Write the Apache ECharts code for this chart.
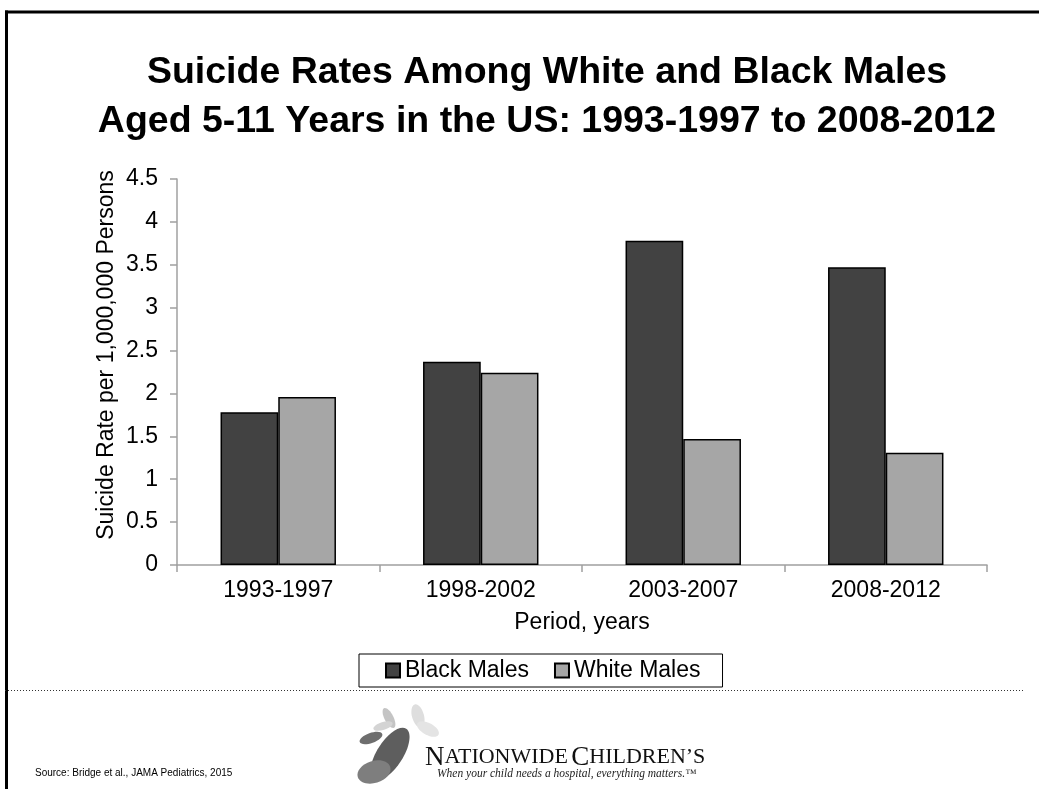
<!DOCTYPE html>
<html>
<head>
<meta charset="utf-8">
<script src="https://cdn.jsdelivr.net/npm/echarts@6/dist/echarts.min.js"></script>
<style>
html,body{margin:0;padding:0;background:#fff;}
#chart{width:1039px;height:789px;}
</style>
</head>
<body>
<div id="chart"></div>
<script>
var periods = ['1993-1997', '1998-2002', '2003-2007', '2008-2012'];
var blackMales = [1.78, 2.37, 3.78, 3.47];
var whiteMales = [1.96, 2.24, 1.47, 1.31];
var seriesNames = ['Black Males', 'White Males'];

var chart = echarts.init(document.getElementById('chart'));
var FONT = 'Liberation Sans, Arial, sans-serif';
var SERIF = 'Liberation Serif, Times New Roman, serif';

var option = {
  backgroundColor: '#fff',
  animation: false,
  textStyle: { fontFamily: FONT },
  title: {
    text: 'Suicide Rates Among White and Black Males\nAged 5-11 Years in the US: 1993-1997 to 2008-2012',
    left: 547,
    top: 48,
    padding: 0,
    textAlign: 'center',
    textStyle: { fontFamily: FONT, fontSize: 37.5, fontWeight: 'bold', color: '#000', lineHeight: 49 }
  },
  legend: {
    data: seriesNames,
    left: 359,
    top: 654,
    orient: 'horizontal',
    padding: [5, 22, 5, 26],
    itemWidth: 14,
    itemHeight: 14,
    itemGap: 25,
    icon: 'rect',
    borderColor: '#000',
    borderWidth: 1,
    backgroundColor: '#fff',
    textStyle: { fontFamily: FONT, fontSize: 23, color: '#000' }
  },
  grid: { left: 177, right: 52, top: 179, bottom: 224, containLabel: false },
  xAxis: {
    type: 'category',
    data: periods,
    name: 'Period, years',
    nameLocation: 'middle',
    nameGap: 46,
    nameMoveOverlap: false,
    nameTextStyle: { fontFamily: FONT, fontSize: 23, color: '#000' },
    axisLine: { show: true, lineStyle: { color: '#a0a0a0', width: 1.5 } },
    axisTick: { show: true, alignWithLabel: false, length: 7, lineStyle: { color: '#a0a0a0', width: 1.5 } },
    axisLabel: { fontFamily: FONT, fontSize: 23, color: '#000', margin: 14 },
    splitLine: { show: false }
  },
  yAxis: {
    type: 'value',
    min: 0,
    max: 4.5,
    interval: 0.5,
    name: 'Suicide Rate per 1,000,000 Persons',
    nameLocation: 'middle',
    nameGap: 59,
    nameRotate: 90,
    nameMoveOverlap: false,
    nameTextStyle: { fontFamily: FONT, fontSize: 23, color: '#000', padding: [0, 0, 0, 34] },
    axisLine: { show: true, lineStyle: { color: '#a0a0a0', width: 1.5 } },
    axisTick: { show: true, length: 7, lineStyle: { color: '#a0a0a0', width: 1.5 } },
    axisLabel: { fontFamily: FONT, fontSize: 23, color: '#000', margin: 19 },
    splitLine: { show: false }
  },
  series: [
    {
      name: seriesNames[0],
      type: 'bar',
      data: blackMales,
      barGap: '0%',
      barCategoryGap: '43%',
      itemStyle: { color: '#424242', borderColor: '#000', borderWidth: 1.5 }
    },
    {
      name: seriesNames[1],
      type: 'bar',
      data: whiteMales,
      barGap: '0%',
      barCategoryGap: '43%',
      itemStyle: { color: '#a6a6a6', borderColor: '#000', borderWidth: 1.5 }
    }
  ],
  graphic: [
    { type: 'line', shape: { x1: 5, y1: 12, x2: 1039, y2: 12 }, style: { stroke: '#000', lineWidth: 3 }, silent: true },
    { type: 'line', shape: { x1: 6.5, y1: 10.5, x2: 6.5, y2: 789 }, style: { stroke: '#000', lineWidth: 3 }, silent: true },
    { type: 'line', shape: { x1: 5, y1: 690.5, x2: 1025, y2: 690.5 }, style: { stroke: '#333', lineWidth: 1.2, lineDash: [1, 2] }, silent: true, z: 0 },
    { type: 'text', left: 35, top: 768, style: { text: 'Source: Bridge et al., JAMA Pediatrics, 2015', fontFamily: FONT, fontSize: 10, fill: '#000' }, silent: true },
    // butterflies (simplified)
    { type: 'ellipse', x: 390, y: 754, rotation: 1.0, shape: { cx: 0, cy: 0, rx: 30, ry: 13 }, style: { fill: '#5e5e5e' }, silent: true },
    { type: 'ellipse', x: 374, y: 772, rotation: 0.3, shape: { cx: 0, cy: 0, rx: 17, ry: 11 }, style: { fill: '#7e7e7e' }, silent: true },
    { type: 'ellipse', x: 371, y: 738, rotation: 0.35, shape: { cx: 0, cy: 0, rx: 12, ry: 5 }, style: { fill: '#6e6e6e' }, silent: true },
    { type: 'ellipse', x: 389, y: 718, rotation: -1.1, shape: { cx: 0, cy: 0, rx: 11, ry: 4.5 }, style: { fill: '#c4c4c4' }, silent: true },
    { type: 'ellipse', x: 383, y: 726, rotation: 0.3, shape: { cx: 0, cy: 0, rx: 10, ry: 4 }, style: { fill: '#d4d4d4' }, silent: true },
    { type: 'ellipse', x: 418, y: 716, rotation: -1.3, shape: { cx: 0, cy: 0, rx: 12, ry: 6 }, style: { fill: '#dedede' }, silent: true },
    { type: 'ellipse', x: 428, y: 729, rotation: -0.5, shape: { cx: 0, cy: 0, rx: 12, ry: 6 }, style: { fill: '#e4e4e4' }, silent: true },
    {
      type: 'text', left: 425, top: 744,
      style: {
        text: '{b|N}{s|ATIONWIDE} {b|C}{s|HILDREN\u2019S}',
        rich: {
          b: { fontFamily: SERIF, fontSize: 27, fill: '#111' },
          s: { fontFamily: SERIF, fontSize: 22, fill: '#111' }
        }
      },
      silent: true
    },
    { type: 'text', left: 437, top: 768, style: { text: 'When your child needs a hospital, everything matters.\u2122', fontFamily: SERIF, fontStyle: 'italic', fontSize: 11.5, fill: '#222' }, silent: true }
  ]
};
chart.setOption(option);
</script>
</body>
</html>
